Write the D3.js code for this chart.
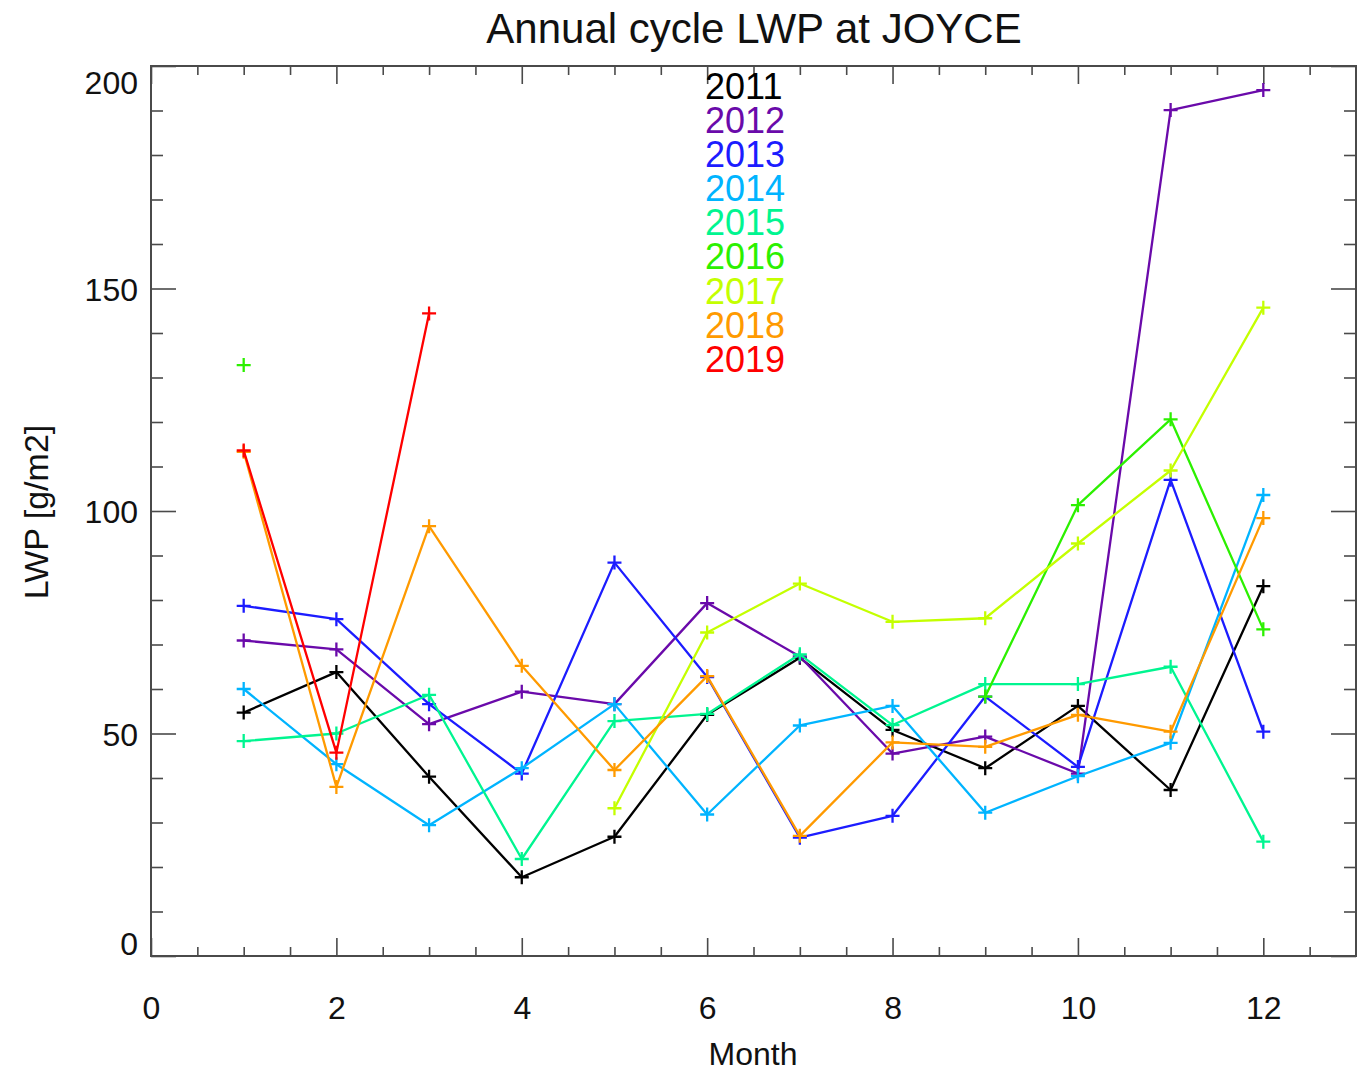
<!DOCTYPE html>
<html>
<head>
<meta charset="utf-8">
<script src="https://cdn.jsdelivr.net/npm/d3@7"></script>
<style>
  html, body { margin: 0; padding: 0; background: #fff; }
  svg { display: block; }
  text { font-family: "Liberation Sans", Arial, Helvetica, sans-serif; fill: #111; }
</style>
</head>
<body>
<script>
// Monthly mean liquid water path per year (null = no data that month)
const months = [1, 2, 3, 4, 5, 6, 7, 8, 9, 10, 11, 12];
const years = ["2011", "2012", "2013", "2014", "2015", "2016", "2017", "2018", "2019"];
const yearColors = ["#000000", "#6a0aaa", "#1c1cff", "#00b4ff", "#00f590", "#2cf000", "#c4ff00", "#ff9a00", "#ff0000"];

const lwp2011 = [54.7, 63.8, 40.3, 17.7, 26.8, 54.2, 67.0, 50.8, 42.2, 56.2, 37.3, 83.1];
const lwp2012 = [70.9, 68.9, 52.1, 59.4, 56.6, 79.3, 67.3, 45.5, 49.3, 41.0, 190.1, 194.6];
const lwp2013 = [78.7, 75.7, 56.6, 41.0, 88.4, 62.7, 26.6, 31.5, 58.3, 42.5, 107.0, 50.4];
const lwp2014 = [60.0, 43.1, 29.4, 42.2, 56.6, 31.8, 51.8, 56.2, 32.2, 40.4, 47.9, 103.6];
const lwp2015 = [48.3, 50.0, 58.7, 21.8, 52.8, 54.4, 67.8, 51.9, 61.1, 61.1, 65.0, 25.7];
const lwp2016 = [132.8, null, null, null, null, null, null, null, 58.3, 101.3, 120.6, 73.4];
const lwp2017 = [null, null, null, null, 33.2, 72.7, 83.7, 75.1, 75.9, 92.7, 109.1, 145.7];
const lwp2018 = [113.3, 38.0, 96.6, 65.2, 41.8, 62.9, 27.0, 48.0, 47.0, 54.2, 50.4, 98.4];
const lwp2019 = [113.6, 45.7, 144.4, null, null, null, null, null, null, null, null, null];
const lwpByYear = [lwp2011, lwp2012, lwp2013, lwp2014, lwp2015, lwp2016, lwp2017, lwp2018, lwp2019];

const xTicks = [0, 2, 4, 6, 8, 10, 12];
const yTicks = [0, 50, 100, 150, 200];

(function draw() {
  const W = 1357, H = 1072;
  const pLeft = 151, pRight = 1356, pTop = 66, pBottom = 956;

  const svg = d3.select("body").append("svg").attr("width", W).attr("height", H);

  const x = d3.scaleLinear().domain([0, 13]).range([pLeft, pRight]);
  const y = d3.scaleLinear().domain([0, 200]).range([pBottom, pTop]);

  const axisColor = "#4a4a4a";

  // inward ticks on all four sides, IDL style
  function styleAxis(g) {
    g.select(".domain").remove();
    g.selectAll(".tick line").attr("stroke", axisColor).attr("stroke-width", 1.6);
  }
  const xMinor = d3.range(0, 13.01, 0.5).filter(v => v % 2 !== 0);
  const yMinor = d3.range(0, 200.1, 10).filter(v => v % 50 !== 0);

  // bottom
  svg.append("g").attr("transform", `translate(0,${pBottom})`)
    .call(d3.axisBottom(x).tickValues(xMinor).tickSize(-9).tickFormat(""))
    .call(styleAxis);
  svg.append("g").attr("transform", `translate(0,${pBottom})`)
    .call(d3.axisBottom(x).tickValues(xTicks).tickSize(-18).tickPadding(40).tickFormat(d3.format("d")))
    .call(styleAxis)
    .call(g => g.selectAll("text").style("font-size", "32px").attr("fill", "#111"));
  // top
  svg.append("g").attr("transform", `translate(0,${pTop})`)
    .call(d3.axisTop(x).tickValues(xMinor).tickSize(-9).tickFormat(""))
    .call(styleAxis);
  svg.append("g").attr("transform", `translate(0,${pTop})`)
    .call(d3.axisTop(x).tickValues(xTicks).tickSize(-18).tickFormat(""))
    .call(styleAxis);
  // left
  svg.append("g").attr("transform", `translate(${pLeft},0)`)
    .call(d3.axisLeft(y).tickValues(yMinor).tickSize(-12).tickFormat(""))
    .call(styleAxis);
  svg.append("g").attr("transform", `translate(${pLeft},0)`)
    .call(d3.axisLeft(y).tickValues(yTicks).tickSize(-25).tickPadding(13).tickFormat(d3.format("d")))
    .call(styleAxis)
    .call(g => g.selectAll("text").style("font-size", "32px").attr("fill", "#111")
      .attr("dy", d => d === 200 ? "0.85em" : d === 0 ? "-0.05em" : "0.36em"));
  // right
  svg.append("g").attr("transform", `translate(${pRight},0)`)
    .call(d3.axisRight(y).tickValues(yMinor).tickSize(-12).tickFormat(""))
    .call(styleAxis);
  svg.append("g").attr("transform", `translate(${pRight},0)`)
    .call(d3.axisRight(y).tickValues(yTicks).tickSize(-25).tickFormat(""))
    .call(styleAxis);

  // frame
  svg.append("rect")
    .attr("x", pLeft).attr("y", pTop)
    .attr("width", pRight - pLeft).attr("height", pBottom - pTop)
    .attr("fill", "none").attr("stroke", axisColor).attr("stroke-width", 2);

  // series
  const line = d3.line()
    .defined(d => d.v !== null)
    .x(d => x(d.m))
    .y(d => y(d.v));

  const plusSize = 7;
  lwpByYear.forEach((vals, i) => {
    const pts = months.map((m, j) => ({ m, v: vals[j] }));
    const g = svg.append("g").attr("class", "series-" + years[i]);
    g.append("path")
      .datum(pts)
      .attr("d", line)
      .attr("fill", "none")
      .attr("stroke", yearColors[i])
      .attr("stroke-width", 2.3)
      .attr("stroke-linejoin", "round");
    g.selectAll("path.marker")
      .data(pts.filter(d => d.v !== null))
      .join("path")
      .attr("class", "marker")
      .attr("d", d => {
        const cx = x(d.m), cy = y(d.v);
        return `M${cx - plusSize},${cy}H${cx + plusSize}M${cx},${cy - plusSize}V${cy + plusSize}`;
      })
      .attr("stroke", yearColors[i])
      .attr("stroke-width", 2.3)
      .attr("fill", "none");
  });

  // year legend
  svg.append("g").selectAll("text")
    .data(years)
    .join("text")
    .attr("x", 705)
    .attr("y", (d, i) => 86 + i * 34.1)
    .attr("dy", "0.36em")
    .style("font-size", "36px")
    .style("fill", (d, i) => yearColors[i])
    .text(d => d);

  // title and axis titles
  svg.append("text")
    .attr("x", 754).attr("y", 43)
    .attr("text-anchor", "middle")
    .style("font-size", "42px")
    .text("Annual cycle LWP at JOYCE");

  svg.append("text")
    .attr("x", 753).attr("y", 1065)
    .attr("text-anchor", "middle")
    .style("font-size", "32px")
    .text("Month");

  svg.append("text")
    .attr("transform", "translate(36,512) rotate(-90)")
    .attr("dy", "0.36em")
    .attr("text-anchor", "middle")
    .style("font-size", "34px")
    .text("LWP [g/m2]");
})();
</script>
</body>
</html>
